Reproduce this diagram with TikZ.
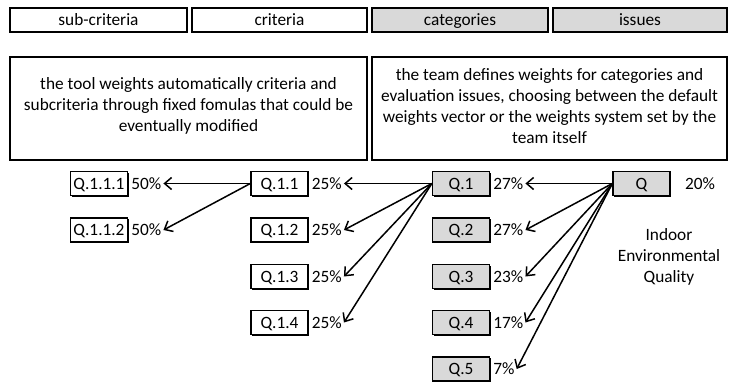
\documentclass[tikz,border=0pt]{standalone}
\usepackage{fontspec}
\setmainfont{Carlito}
\usetikzlibrary{arrows.meta,shadows}
\definecolor{boxgray}{HTML}{D9D9D9}
\begin{document}
\begin{tikzpicture}[x=1pt,y=-1pt,
  font=\fontsize{17.3}{21}\selectfont,
  framed/.style={draw=black, line width=1.3pt, inner sep=0pt,
    drop shadow={shadow xshift=1pt, shadow yshift=-1pt, opacity=1, fill=black}},
  hdr/.style={framed, minimum height=24pt, text height=13pt, text depth=2pt},
  txtbox/.style={framed, fill=white, minimum width=357pt, minimum height=103pt, align=center},
  qbox/.style={framed, minimum width=57pt, minimum height=24pt, text height=13pt, text depth=2pt},
  wbox/.style={qbox, fill=white},
  gbox/.style={qbox, fill=boxgray},
  pct/.style={anchor=west, inner sep=1pt, text height=13pt, text depth=2pt},
  arr/.style={line width=1.5pt, -{Straight Barb[length=7pt,width=12pt]}}
]
\useasboundingbox (0,0) rectangle (729,383);

% column headings
\node[hdr, fill=white, minimum width=177pt] (hsub) at (98.5,20) {sub-criteria};
\node[hdr, fill=white, minimum width=175pt] (hcrit) at (279.5,20) {criteria};
\node[hdr, fill=boxgray, minimum width=176pt] (hcat) at (460,20) {categories};
\node[hdr, fill=boxgray, minimum width=174pt] (hiss) at (640,20) {issues};

% explanatory boxes
\node[txtbox, text depth=9pt] (tleft) at (188.5,108.5) {the tool weights automatically criteria and\\subcriteria through fixed fomulas that could be\\eventually modified};
\node[txtbox, minimum width=355pt, text depth=6pt] (tright) at (549.5,108.5) {the team defines weights for categories and\\evaluation issues, choosing between the default\\weights vector or the weights system set by the\\team itself};

% issue
\node[gbox] (q) at (641.5,183.5) {Q};
\node[text height=13pt, text depth=2pt] at (700,183.5) {20\%};
\node[align=center] (qname) at (669,257) {Indoor\\Environmental\\Quality};

% categories
\node[gbox] (q1) at (461,183.5) {Q.1};
\node[gbox] (q2) at (461,230) {Q.2};
\node[gbox] (q3) at (461,276.5) {Q.3};
\node[gbox] (q4) at (461,322.5) {Q.4};
\node[gbox] (q5) at (461,369) {Q.5};
\node[pct] (p1) at ([xshift=2pt]q1.east) {27\%};
\node[pct] (p2) at ([xshift=2pt]q2.east) {27\%};
\node[pct] (p3) at ([xshift=2pt]q3.east) {23\%};
\node[pct] (p4) at ([xshift=2pt]q4.east) {17\%};
\node[pct] (p5) at ([xshift=2pt]q5.east) {7\%};

% criteria
\node[wbox] (q11) at (279.5,183.5) {Q.1.1};
\node[wbox] (q12) at (279.5,230) {Q.1.2};
\node[wbox] (q13) at (279.5,276.5) {Q.1.3};
\node[wbox] (q14) at (279.5,322.5) {Q.1.4};
\node[pct] (p11) at ([xshift=2pt]q11.east) {25\%};
\node[pct] (p12) at ([xshift=2pt]q12.east) {25\%};
\node[pct] (p13) at ([xshift=2pt]q13.east) {25\%};
\node[pct] (p14) at ([xshift=2pt]q14.east) {25\%};

% sub-criteria
\node[wbox] (q111) at (99,183.5) {Q.1.1.1};
\node[wbox] (q112) at (99,230) {Q.1.1.2};
\node[pct] (p111) at ([xshift=2pt]q111.east) {50\%};
\node[pct] (p112) at ([xshift=2pt]q112.east) {50\%};

% weight arrows
\foreach \t in {p1,p2,p3,p4,p5} \draw[arr] (q.west) -- ([xshift=1pt]\t.east);
\foreach \t in {p11,p12,p13,p14} \draw[arr] (q1.west) -- ([xshift=1pt]\t.east);
\foreach \t in {p111,p112} \draw[arr] (q11.west) -- ([xshift=1pt]\t.east);
\end{tikzpicture}
\end{document}
